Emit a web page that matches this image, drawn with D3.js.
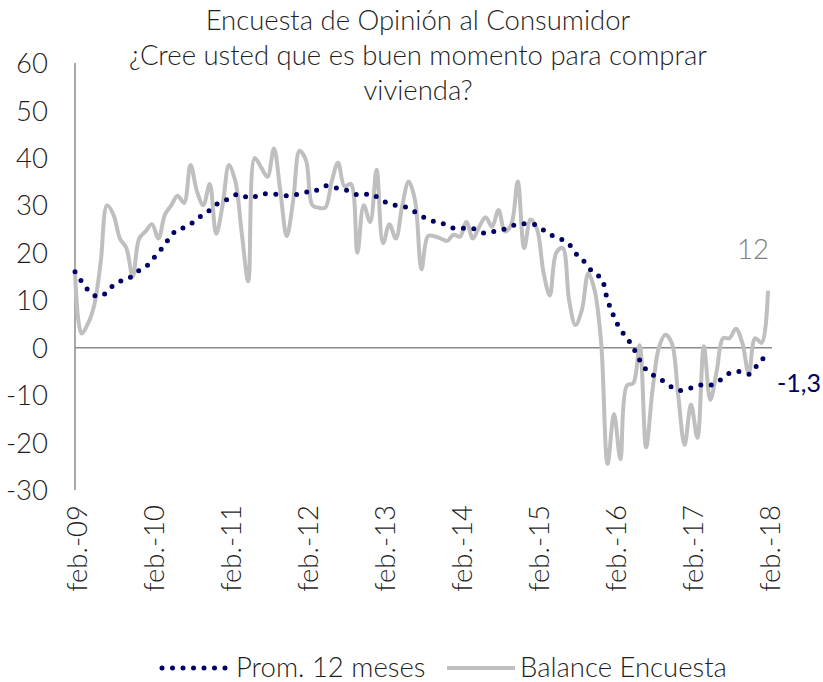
<!DOCTYPE html>
<html>
<head>
<meta charset="utf-8">
<script src="https://cdn.jsdelivr.net/npm/d3@7"></script>
<style>
  html, body { margin: 0; padding: 0; background: #ffffff; }
  svg { display: block; }
  text { font-family: Lato, "Open Sans", sans-serif; }
</style>
</head>
<body>
<svg id="chart" width="823" height="682"></svg>
<script>
const titleLines = ["Encuesta de Opinión al Consumidor", "¿Cree usted que es buen momento para comprar", "vivienda?"];
const yTicks = [-30, -20, -10, 0, 10, 20, 30, 40, 50, 60];
const xTickLabels = ["feb.-09", "feb.-10", "feb.-11", "feb.-12", "feb.-13", "feb.-14", "feb.-15", "feb.-16", "feb.-17", "feb.-18"];
const seriesNames = ["Prom. 12 meses", "Balance Encuesta"];

// Balance Encuesta, monthly feb-09 .. feb-18
const balance = [
  16.4, 3, 5, 9, 18, 30, 28, 23, 21, 15,
  23, 24.5, 26, 23, 28, 30, 32, 30.5, 38.5, 33,
  30, 34.5, 24, 30, 38.5, 35, 24, 14, 40, 38,
  36, 42, 33, 23.5, 31, 41.5, 39.5, 30, 29.5, 29.5,
  35, 39, 34, 34.5, 20, 30, 26.5, 37.5, 22, 26,
  23, 30, 35, 31, 16.5, 23.5, 23.5, 23, 22.5, 23.8,
  23.4, 26.5, 23, 25.5, 27.5, 25.5, 29, 24.5, 26, 35,
  21, 27, 25, 16, 11, 20, 21, 10, 4.8, 8,
  15.7, 12, 1, -24.5, -14, -23.5, -8, -7.5, 0.5, -21,
  -9, 0, 2.7, 1, -10, -20.5, -12, -19, 0.3, -11,
  -5, 2, 2, 4, 1, -5.5, 2, 1, 12
];

// Prom. 12 meses
const average = [
  16, 14, 12.2, 11, 10.8, 11.8, 13.2, 14, 14.3, 15.2,
  16.3, 17, 18.5, 20, 21.8, 23.6, 25, 25.3, 26, 27.2,
  28, 29, 30.2, 30.6, 31.5, 32.2, 32.3, 31.5, 31.8, 32.4,
  32.4, 32.4, 32.2, 32, 32.1, 32.5, 32.8, 32.7, 33.5, 34.1,
  33.8, 33.6, 33.3, 32.8, 32.2, 32.2, 32.5, 31.8, 31, 30.3,
  30, 29.7, 29.5, 28.6, 27.8, 27, 26.6, 26.4, 25.6, 25.2,
  25.2, 25.1, 25.1, 24.5, 24.1, 24.4, 24.7, 25, 25.6, 26,
  26.1, 26.1, 25.8, 24.8, 23.8, 23.4, 22.7, 21.8, 19.9, 18.7,
  17, 15.5, 14.7, 10, 6.5, 3.8, 2.1, 0, -2.6, -4.6,
  -5.7, -6.4, -7.4, -8.3, -9, -8.9, -8.5, -8, -7.8, -7.9,
  -7.4, -6.3, -5.4, -5, -5.2, -5.6, -4.2, -2.6, -1.3
];

const lastLabels = ["12", "-1,3"];

const FS = 27.5;
const svg = d3.select("#chart");
const n = balance.length;
const x = d3.scaleLinear().domain([0, n - 1]).range([75, 768]);
const y = d3.scaleLinear().domain([-30, 60]).range([490, 63]);

// Title
svg.append("g").selectAll("text").data(titleLines).join("text")
  .attr("x", 418).attr("y", (d, i) => 30 + i * 35)
  .attr("text-anchor", "middle")
  .attr("font-size", FS).attr("font-weight", 300)
  .attr("fill", "#1f1f1f")
  .text(d => d);

// Y axis labels
const yAxis = d3.axisLeft(y).tickValues(yTicks).tickSize(0).tickPadding(0).tickFormat(d => String(d));
const gy = svg.append("g").attr("transform", "translate(48,0)").call(yAxis);
gy.select(".domain").remove();
gy.selectAll("text").attr("font-size", FS).attr("font-weight", 300).attr("fill", "#1f1f1f")
  .attr("font-family", "Lato, 'Open Sans', sans-serif").attr("dy", "0.35em");

// Y axis line
svg.append("line").attr("x1", 75).attr("x2", 75).attr("y1", y(60)).attr("y2", y(-30))
  .attr("stroke", "#8c8c8c").attr("stroke-width", 1.5);

// Zero line
svg.append("line").attr("x1", 75).attr("x2", 772).attr("y1", y(0)).attr("y2", y(0))
  .attr("stroke", "#8c8c8c").attr("stroke-width", 1.5);

// X tick labels (every 12 months)
const xAxis = d3.axisBottom(x).tickValues(xTickLabels.map((d, i) => i * 12))
  .tickSize(0).tickFormat((d, i) => xTickLabels[i]);
const gx = svg.append("g").attr("transform", "translate(2,505)").call(xAxis);
gx.select(".domain").remove();
gx.selectAll("text")
  .attr("font-size", FS).attr("font-weight", 300).attr("fill", "#1f1f1f")
  .attr("font-family", "Lato, 'Open Sans', sans-serif")
  .attr("transform", "rotate(-90)")
  .attr("text-anchor", "end")
  .attr("x", 0).attr("y", 0).attr("dy", "0.35em");

// Lines
const lineGen = d3.line().x((d, i) => x(i)).y(d => y(d)).curve(d3.curveCatmullRom.alpha(0.5));

svg.append("path").datum(balance)
  .attr("d", lineGen).attr("fill", "none")
  .attr("stroke", "#bfbfbf").attr("stroke-width", 4)
  .attr("stroke-linejoin", "round");

svg.append("path").datum(average)
  .attr("d", lineGen).attr("fill", "none")
  .attr("stroke", "#000066").attr("stroke-width", 5)
  .attr("stroke-linecap", "round")
  .attr("stroke-dasharray", "0,10.5");

// End labels
svg.append("text").attr("x", 769).attr("y", 259)
  .attr("text-anchor", "end").attr("font-size", FS).attr("font-weight", 300)
  .attr("fill", "#7f7f7f").text(lastLabels[0]);
svg.append("text").attr("x", 777).attr("y", 392)
  .attr("text-anchor", "start").attr("font-size", 25).attr("font-weight", 400)
  .attr("fill", "#000066").text(lastLabels[1]);

// Legend
const lg = svg.append("g");
lg.append("line").attr("x1", 162).attr("x2", 226).attr("y1", 668).attr("y2", 668)
  .attr("stroke", "#000066").attr("stroke-width", 5).attr("stroke-linecap", "round")
  .attr("stroke-dasharray", "0,10.5");
lg.append("text").attr("x", 236).attr("y", 677).attr("font-size", FS).attr("font-weight", 300)
  .attr("fill", "#1f1f1f").text(seriesNames[0]);
lg.append("line").attr("x1", 447).attr("x2", 515).attr("y1", 668).attr("y2", 668)
  .attr("stroke", "#bfbfbf").attr("stroke-width", 4);
lg.append("text").attr("x", 520).attr("y", 677).attr("font-size", FS).attr("font-weight", 300)
  .attr("fill", "#1f1f1f").text(seriesNames[1]);
</script>
</body>
</html>
